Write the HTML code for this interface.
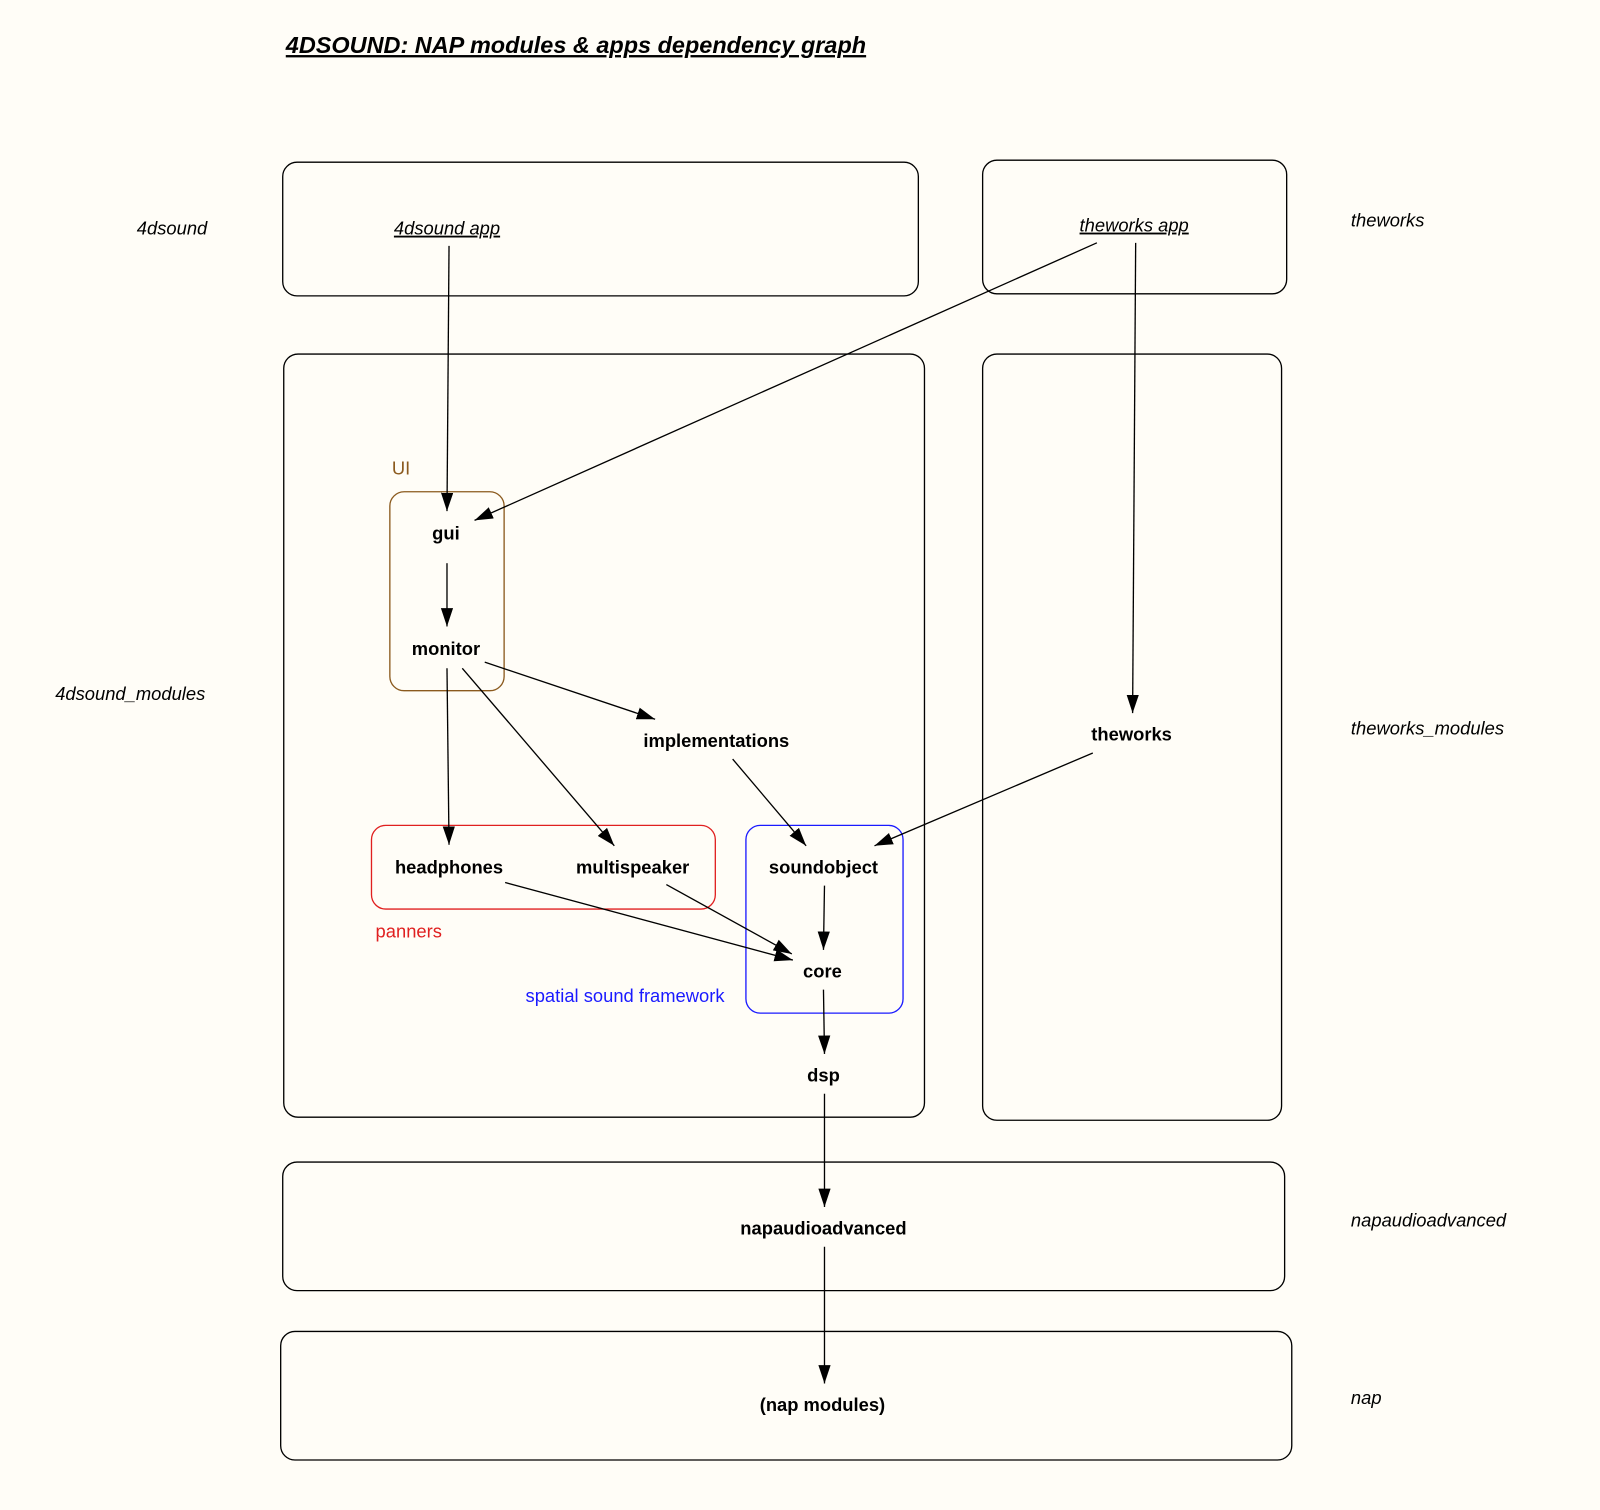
<!DOCTYPE html>
<html><head><meta charset="utf-8"><style>
html,body{margin:0;padding:0;background:#fffdf7;}
svg{display:block}
text{font-family:"Liberation Sans",Arial,sans-serif;}
.b{font-weight:bold;font-size:18px;fill:#000;text-anchor:middle}
.i{font-style:italic;font-size:18px;fill:#000}
</style></head><body>
<svg width="1600" height="1510" viewBox="0 0 1568 1480" xmlns="http://www.w3.org/2000/svg">
<defs><marker id="a" markerUnits="userSpaceOnUse" markerWidth="20" markerHeight="14" refX="18" refY="6" orient="auto"><path d="M0,0 L18,6 L0,12 z" fill="#000"/></marker></defs>
<rect width="1568" height="1480" fill="#fffdf7"/>
<text x="280" y="52" font-size="23" font-weight="bold" font-style="italic" text-decoration="underline">4DSOUND: NAP modules &amp; apps dependency graph</text>
<g fill="none" stroke="#000" stroke-width="1.3">
<rect x="277" y="159" width="623" height="131" rx="14"/>
<rect x="963" y="157" width="298" height="131" rx="14"/>
<rect x="278" y="347" width="628" height="748" rx="14"/>
<rect x="963" y="347" width="293" height="751" rx="14"/>
<rect x="277" y="1139" width="982" height="126" rx="14"/>
<rect x="275" y="1305" width="991" height="126" rx="14"/>
</g>
<rect x="382" y="482" width="112" height="195" rx="14" fill="none" stroke="#8b5a1e" stroke-width="1.3"/>
<rect x="364" y="809" width="337" height="82" rx="14" fill="none" stroke="#e02020" stroke-width="1.3"/>
<rect x="731" y="809" width="154" height="184" rx="14" fill="none" stroke="#1a1aff" stroke-width="1.3"/>
<text x="384" y="465" font-size="18" fill="#8b5a1e">UI</text>
<text x="368" y="919" font-size="18" fill="#e02020">panners</text>
<text x="515" y="982" font-size="18" fill="#1a1aff">spatial sound framework</text>
<text class="i" x="134" y="230">4dsound</text>
<text class="i" x="54" y="686">4dsound_modules</text>
<text class="i" x="1324" y="222">theworks</text>
<text class="i" x="1324" y="720">theworks_modules</text>
<text class="i" x="1324" y="1202">napaudioadvanced</text>
<text class="i" x="1324" y="1376">nap</text>
<text class="i" x="386" y="230" text-decoration="underline">4dsound app</text>
<text class="i" x="1058" y="227" text-decoration="underline">theworks app</text>
<text class="b" x="437" y="529">gui</text>
<text class="b" x="437" y="642">monitor</text>
<text class="b" x="702" y="732">implementations</text>
<text class="b" x="1109" y="726">theworks</text>
<text class="b" x="440" y="856">headphones</text>
<text class="b" x="620" y="856">multispeaker</text>
<text class="b" x="807" y="856">soundobject</text>
<text class="b" x="806" y="958">core</text>
<text class="b" x="807" y="1060">dsp</text>
<text class="b" x="807" y="1210">napaudioadvanced</text>
<text class="b" x="806" y="1383">(nap modules)</text>
<g stroke="#000" stroke-width="1.3" marker-end="url(#a)">
<line x1="440" y1="241" x2="438" y2="501"/>
<line x1="1075" y1="238" x2="465" y2="510"/>
<line x1="1113" y1="238" x2="1110" y2="699"/>
<line x1="438" y1="552" x2="438" y2="614"/>
<line x1="475" y1="649" x2="642" y2="705"/>
<line x1="438" y1="655" x2="440" y2="828"/>
<line x1="453" y1="655" x2="602" y2="829"/>
<line x1="718" y1="744" x2="790" y2="829"/>
<line x1="1071" y1="738" x2="857" y2="829"/>
<line x1="808" y1="868" x2="807" y2="931"/>
<line x1="495" y1="865" x2="777" y2="941"/>
<line x1="653" y1="867" x2="776" y2="935"/>
<line x1="807" y1="970" x2="808" y2="1033"/>
<line x1="808" y1="1072" x2="808" y2="1183"/>
<line x1="808" y1="1222" x2="808" y2="1356"/>
</g>
</svg>
</body></html>
